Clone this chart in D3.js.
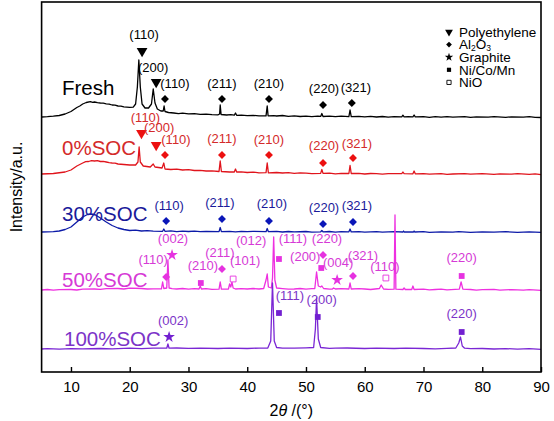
<!DOCTYPE html>
<html><head><meta charset="utf-8">
<script src="https://cdn.jsdelivr.net/npm/d3@7"></script>
<style>body{margin:0;background:#fff}svg{display:block}text{font-family:Arial,"Liberation Sans",sans-serif}</style>
</head><body><svg id="c" width="554" height="421"></svg>
<script>
// ---------- data ----------
const xTicks = [10, 20, 30, 40, 50, 60, 70, 80, 90];
const samples = ["Fresh", "0%SOC", "30%SOC", "50%SOC", "100%SOC"];
const offsets = [255, 198, 140, 82, 23]; // vertical stacking offsets (a.u.)

const traceFresh = [[5,0],[6,0.3],[7,0.8],[8,1.5],[9,3],[10,5.5],[11,9.5],[11.5,11],[12,13],[12.6,14.5],[13.3,15.3],[13.7,14.6],[14,15],[14.5,14.3],[15,14],[15.5,13.8],[16,13.2],[16.5,12.9],[17,12],[17.5,11.8],[18,11],[18.5,10.9],[19,10.2],[20,9.6],[20.6,9.8],[21.0,13],[21.3,30],[21.55,57],[21.8,30],[22.1,13],[22.6,9],[23.2,9],[23.7,13],[24.0,28],[24.3,14],[24.7,8],[25.3,6],[25.7,6],[25.85,11],[26.0,5.5],[26.6,4.5],[27.5,4],[28.3,3.4],[29,3.8],[30,3.1],[31,3.3],[32,2.6],[33,2.9],[34,2.3],[35.0,2.2],[35.3,3],[35.4,12],[35.55,2.5],[36.5,2],[37.2,2.3],[37.8,1.8],[38.0,4],[38.2,1.7],[39,1.9],[40,1.4],[41,1.7],[42,1.2],[43.2,1.1],[43.4,11],[43.55,1.2],[44.5,1.4],[45,1],[46,1.5],[47,0.7],[48,1.1],[49,0.5],[50,0.9],[51,0.4],[52,0.8],[52.5,0.6],[52.7,3.5],[52.9,0.5],[54,0.8],[55,0.3],[56,0.9],[57.3,0.4],[57.5,7],[57.7,0.4],[59,0.6],[60,0.1],[61,0.6],[62,0],[63,0.5],[64,-0.2],[65,0.4],[66.3,0.2],[66.5,1.8],[66.7,0.2],[67.4,0.4],[68.2,0.2],[68.4,2],[68.6,0.1],[70,0.4],[71,-0.3],[72,0.3],[73,-0.2],[74,0.4],[75,-0.2],[77,0.3],[78,-0.3],[79,0.2],[81,-0.2],[82,0.3],[84,-0.3],[85,0.2],[87,-0.2],[88,0.3],[89,-0.4],[90,-0.5]];
const trace0 = [[5,0],[7,0.5],[9,2],[10,4],[11,8],[12,11],[12.5,12.3],[13,12.5],[13.5,13.4],[14,13],[14.5,13.3],[15,12.5],[15.5,12.6],[16,12],[16.5,11.3],[17,11],[17.5,10.8],[18,10],[19,9.5],[20,9],[21,9],[21.4,12],[21.6,27],[21.8,12],[22.3,8],[23.5,7],[24.0,10],[24.3,7],[25.5,6],[25.8,11],[26.0,5],[27,4.5],[28,4.8],[29,4],[30,4.3],[31,3.5],[32,3.7],[33,3],[34,3.2],[35.2,2.5],[35.4,13],[35.6,2.5],[37,2],[37.8,2],[38,5],[38.2,2],[39,2.2],[40,1.5],[41,1.9],[42,1.2],[43.2,1.3],[43.4,11],[43.6,1.2],[45,1.5],[46,1],[47,1.3],[48,0.7],[49,1.1],[50,0.8],[51,0.3],[52.5,0.6],[52.7,4.5],[52.9,0.6],[54,0.9],[55,0.2],[56,0.7],[57.3,0.5],[57.5,8.5],[57.7,0.5],[59,0.6],[60,0],[61,0.5],[62,0.3],[63,-0.1],[64,0.4],[66.3,0.3],[66.5,2],[66.7,0.3],[68.2,0.2],[68.4,3],[68.6,0.2],[70,0.3],[71,-0.2],[73,0.3],[74,-0.3],[75,0],[77,0.3],[78,-0.2],[80,0.3],[82,-0.3],[83,0.2],[85,-0.2],[86,0.3],[88,-0.3],[89,0.2],[90,-0.6]];
const trace30 = [[5,0],[7,0.3],[8,1],[9,2.5],[10,5],[11,10],[12,15],[12.8,17.5],[13.5,18],[14.2,17],[15,14],[16,10],[17,6.5],[18,4],[19,2.5],[20,1.5],[21,1.8],[22,1],[23,1.3],[24,0.8],[25.6,0.7],[25.8,3],[26,0.7],[27,1.1],[28,0.4],[29,0.8],[30,0.5],[31,0.9],[32,0.3],[33,0.7],[35.2,0.4],[35.4,4.5],[35.6,0.4],[37,0.7],[38,0.2],[39,0.6],[40,0.3],[41,0.6],[43.2,0.3],[43.4,3.5],[43.6,0.3],[45,0.6],[46,0],[47,0.5],[48,0.1],[50,0.5],[51,-0.1],[52.5,0.2],[52.7,1.5],[52.9,0.2],[54,0.5],[55,-0.1],[56,0.4],[57.3,0.2],[57.5,3],[57.7,0.1],[59,0.4],[60,-0.2],[62,0.3],[63,-0.2],[65,0.3],[66.5,0],[66.6,1],[66.7,0],[68.3,0],[68.4,1],[68.5,0],[70,0.3],[71,-0.3],[73,0.2],[75,-0.2],[76,0.3],[78,-0.3],[80,0.2],[82,-0.2],[84,0.3],[86,-0.3],[88,0.2],[90,-0.4]];
const trace50 = [[5,0],[6,0.5],[7,-0.2],[8,0.4],[10,0.5],[11,0],[12,0.8],[14,1],[15,0.6],[16,1.3],[18,1.5],[19,1],[20,1.8],[22,1.5],[23,1],[24,1.2],[25.4,1.2],[25.6,8],[25.8,1.5],[26.3,2],[26.5,30],[26.7,2],[27.2,1.4],[28,1],[29,1.5],[30,0.8],[31,1.3],[31.8,1],[32.0,4],[32.2,1],[33,1.4],[34,0.7],[35.2,0.8],[35.4,8],[35.6,0.8],[36.8,1],[37.0,6],[37.2,3],[37.4,8],[37.6,2],[38.0,1],[39,1.4],[40,1],[41,1.5],[42,1],[42.8,1.5],[43.2,10],[43.4,16],[43.6,3],[44.1,2],[44.3,12],[44.5,53],[44.7,10],[45,2],[46,1.4],[47,0.8],[48,1],[49,1.5],[50,0.9],[51,1.3],[51.5,1.5],[51.8,18],[52.1,4],[52.5,3],[52.7,4],[53,1.5],[54,0.8],[54.5,1],[54.7,2],[55,1],[56,1.4],[57.3,1],[57.5,7],[57.7,1],[59,1.3],[60,1],[61,0.5],[62.5,1.5],[62.8,5],[63.2,1],[64,0.6],[65.0,0.8],[65.15,75],[65.3,0.8],[66.5,0.5],[66.7,2],[66.9,0.5],[68.0,0.5],[68.2,4],[68.4,0.5],[70,0.8],[71,0.2],[72,0.5],[73,0.9],[74,0.2],[76.1,0.8],[76.4,8],[76.7,0.8],[78,0.5],[79,-0.1],[80,0.3],[82,0.6],[83,-0.1],[85,0.4],[87,-0.2],[88,0.3],[90,-0.3]];
const trace100 = [[5,0],[6,0.4],[8,-0.1],[10,0.4],[12,0.1],[15,0.5],[17,0.2],[20,0.8],[22,0.4],[24,0.9],[26.3,0.8],[26.5,5],[26.7,0.8],[28,1],[30,0.6],[32,0.9],[35,0.5],[37,0.8],[40,0.5],[42,0.9],[43.5,1],[44.0,8],[44.3,66],[44.6,8],[45,1.5],[46,0.8],[48,0.8],[50,1.2],[51.3,1.5],[51.6,20],[51.8,51],[52.1,10],[52.5,1.5],[54,0.7],[55,0.8],[57,1],[60,0.5],[62,0.8],[65,0.5],[67,0.8],[70,0.5],[72,0.2],[74,0.6],[75.5,1],[76.0,6],[76.3,12],[76.6,3],[77,0.8],[78,0.3],[80,0.5],[82,0],[84,0.4],[86,-0.1],[88,0.3],[90,-0.3]];
const traces = [traceFresh, trace0, trace30, trace50, trace100];

// phase markers: [symbol, hkl, 2theta, level above baseline]
const marksFresh = [["tri","(110)",22.1,66],["tri","(200)",24.5,35],["dia","(110)",26.0,18],["dia","(211)",35.7,18],["dia","(210)",43.7,18],["dia","(220)",52.9,12],["dia","(321)",57.8,14]];
const marks0 = [["tri","(110)",22.0,41],["tri","(200)",24.5,29],["dia","(110)",26.0,19],["dia","(211)",35.7,19],["dia","(210)",43.7,19],["dia","(220)",52.9,11],["dia","(321)",58.0,16]];
const marks30 = [["dia","(110)",26.2,11],["dia","(211)",35.7,13],["dia","(210)",43.7,11],["dia","(220)",52.9,8],["dia","(321)",58.0,10]];
const marks50 = [["dia","(110)",26.2,13],["star","(002)",27.2,35],["sq","(210)",32.1,7],["dia","(211)",35.7,21],["osq","(101)",37.6,11],["none","(012)",43.4,31],["sq","(111)",45.4,31],["dia","(220)",52.9,35],["sq","(200)",52.6,22],["star","(004)",55.3,10],["dia","(321)",58.0,14],["osq","(110)",63.6,12],["sq","(220)",76.5,14]];
const marks100 = [["star","(002)",26.7,12],["sq","(111)",45.4,36],["sq","(200)",52.0,32],["sq","(220)",76.5,17]];
const marks = [marksFresh, marks0, marks30, marks50, marks100];

const legendSymbols = ["tri", "dia", "star", "sq", "osq"];
const legendNames = ["Polyethylene", "Al2O3", "Graphite", "Ni/Co/Mn", "NiO"];

// ---------- layout / style ----------
const lineColors = ["#000000", "#e0141c", "#0c1aa8", "#ee30e0", "#7a26d4"];
const textColors = ["#000000", "#d42a2a", "#1a1a9a", "#d63ad6", "#7c34c8"];
const markColors = ["#000000", "#ec1010", "#0a16b8", "#e632e0", "#7220d0"];
const labelNudge = [
  [[2,-12],[-3,-10],[10,-11],[0,-11],[0,-11],[1,-12],[4,-11]],
  [[4,-11],[3,-13],[11,-11],[0,-12],[0,-11],[1,-13],[4,-10]],
  [[3,-11],[-2,-12],[3,-13],[1,-12],[4,-12]],
  [[-13,-13],[1,-12],[2,-13],[-2,-12],[12,-14],[-16,-14],[14,-16],[4,-12],[-16,-7],[1,-13],[10,-16],[-1,-7],[0,-14]],
  [[4,-12],[11,-13],[4,-13],[0,-14]]
];
const sampleLabelPos = [[62,95],[62,155],[62,221],[62,287],[64,346]];

const svg = d3.select("#c");
const pL = 41.6, pR = 541, pT = 2, pB = 372;
const x = d3.scaleLinear().domain([5, 90]).range([pL, pR]);
const y = d3.scaleLinear().domain([0, 370]).range([pB, pT]);

const line = d3.line().x(d => x(d[0]));
traces.forEach((tr, i) => {
  svg.append("path")
    .attr("d", line.y(d => y(d[1] + offsets[i]))(tr))
    .attr("fill", "none").attr("stroke", lineColors[i]).attr("stroke-width", 1.3)
    .attr("stroke-linejoin", "round");
});

function symPath(t, s) {
  if (t === "tri") return d3.symbol(d3.symbolTriangle, s * 1.2)();
  if (t === "dia") return d3.symbol(d3.symbolSquare, s * 0.75)();
  if (t === "star") return d3.symbol(d3.symbolStar, s)();
  return d3.symbol(d3.symbolSquare, s * 0.8)();
}
function drawMark(g, t, cx, cy, col, s) {
  if (t === "none") return;
  const p = g.append("path").attr("d", symPath(t, s));
  let tr = `translate(${cx},${cy})`;
  if (t === "tri") tr += " rotate(180)";
  if (t === "dia") tr += " rotate(45)";
  p.attr("transform", tr);
  if (t === "osq") p.attr("fill", "#fff").attr("stroke", col).attr("stroke-width", 0.9);
  else p.attr("fill", col);
}

const ann = svg.append("g");
marks.forEach((ms, i) => {
  ms.forEach((m, j) => {
    const cx = x(m[2]), cy = y(m[3] + offsets[i]);
    drawMark(ann, m[0], cx, cy, markColors[i], 42);
    const nd = labelNudge[i][j];
    ann.append("text").attr("x", cx + nd[0]).attr("y", cy + nd[1])
      .attr("text-anchor", "middle").attr("font-size", 13)
      .attr("fill", textColors[i]).text(m[1]);
  });
  svg.append("text").attr("x", sampleLabelPos[i][0]).attr("y", sampleLabelPos[i][1])
    .attr("font-size", 20.5).attr("fill", textColors[i]).text(samples[i]);
});

const lg = svg.append("g");
legendNames.forEach((n, i) => {
  const ly = 32 + i * 12.6;
  drawMark(lg, legendSymbols[i], 449, ly, "#000", 22);
  const t = lg.append("text").attr("x", 459).attr("y", ly + 4.8).attr("font-size", 13.5).attr("fill", "#000");
  if (n === "Al2O3") {
    t.append("tspan").text("Al");
    t.append("tspan").attr("font-size", 8.5).attr("dy", 1.8).text("2");
    t.append("tspan").attr("dy", -1.8).text("O");
    t.append("tspan").attr("font-size", 8.5).attr("dy", 1.8).text("3");
  } else t.text(n);
});

svg.append("rect").attr("x", pL).attr("y", pT).attr("width", pR - pL).attr("height", pB - pT)
  .attr("fill", "none").attr("stroke", "#000").attr("stroke-width", 1.6);

const ax = svg.append("g").attr("transform", `translate(0,${pB})`)
  .call(d3.axisBottom(x).tickValues(xTicks).tickSizeInner(-5).tickSizeOuter(0).tickPadding(9));
ax.select(".domain").remove();
ax.selectAll(".tick line").attr("stroke", "#000").attr("stroke-width", 1.4);
ax.selectAll(".tick text").attr("font-size", 15).attr("fill", "#000").attr("font-family", "Arial,'Liberation Sans',sans-serif");

const xt = svg.append("text").attr("x", (pL + pR) / 2).attr("y", 416).attr("text-anchor", "middle").attr("font-size", 16);
xt.append("tspan").text("2");
xt.append("tspan").attr("font-style", "italic").text("θ");
xt.append("tspan").text(" /(°)");
svg.append("text").attr("transform", "translate(22,187) rotate(-90)").attr("text-anchor", "middle")
  .attr("font-size", 16).text("Intensity/a.u.");
</script></body></html>
